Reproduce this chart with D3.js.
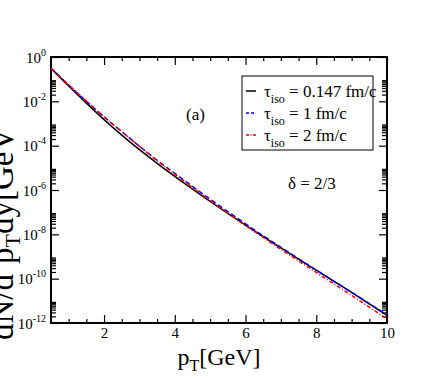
<!DOCTYPE html>
<html>
<head>
<meta charset="utf-8">
<script src="https://cdn.jsdelivr.net/npm/d3@7"></script>
<style>
  body { margin: 0; background: #fff; }
  svg { display: block; }
</style>
</head>
<body>
<svg></svg>
<script>
const width = 436
const height = 382
const serif = "'Liberation Serif', 'Times New Roman', serif"

// data
const pT = [0.5, 1, 1.5, 2, 2.5, 3, 3.5, 4, 4.5, 5, 5.5, 6, 6.5, 7, 7.5, 8, 8.5, 9, 9.5, 10]
const tau0147 = [3.1e-1, 4.9e-2, 8.3e-3, 1.5e-3, 3.0e-4, 6.6e-5, 1.6e-5, 4.1e-6, 1.1e-6, 3.05e-7,
    8.8e-8, 2.6e-8, 7.85e-9, 2.45e-9, 7.6e-10, 2.4e-10, 7.6e-11, 2.4e-11, 7.3e-12, 2.2e-12]
const tau1 = [3.1e-1, 5.4e-2, 1.0e-2, 2.0e-3, 4.3e-4, 9.5e-5, 2.2e-5, 5.6e-6, 1.45e-6, 3.85e-7,
    1.06e-7, 3.0e-8, 8.6e-9, 2.6e-9, 7.9e-10, 2.45e-10, 7.6e-11, 2.4e-11, 7.5e-12, 2.3e-12]
const tau2 = [3.1e-1, 5.5e-2, 1.02e-2, 2.0e-3, 4.3e-4, 9.3e-5, 2.1e-5, 5.1e-6, 1.3e-6, 3.35e-7,
    9.0e-8, 2.5e-8, 7.2e-9, 2.1e-9, 6.3e-10, 1.9e-10, 5.75e-11, 1.75e-11, 5.2e-12, 1.5e-12]

const seriesNames = ["0.147 fm/c", "1 fm/c", "2 fm/c"]
const xTicks = [2, 4, 6, 8, 10]
const yExponents = [0, -2, -4, -6, -8, -10, -12]

const series = [
    { name: seriesNames[0], values: tau0147, color: "#000", dash: null, legendDash: null },
    { name: seriesNames[1], values: tau1, color: "#0000ff", dash: "5,3", legendDash: "3,2" },
    { name: seriesNames[2], values: tau2, color: "#ff0000", dash: "4,2,1,2", legendDash: "3,1.5,1,1.5" }
]

const svg = d3.select("svg")
    .attr("width", width)
    .attr("height", height)

const margin = { top: 57, right: 49, bottom: 59, left: 51 }
const innerWidth = width - margin.left - margin.right
const innerHeight = height - margin.top - margin.bottom

const xScale = d3.scaleLinear().domain([0.5, 10]).range([0, innerWidth])
const yScale = d3.scaleLog().domain([1e-12, 1]).range([innerHeight, 0])

const g = svg.append("g")
    .attr("transform", `translate(${margin.left}, ${margin.top})`)

// minor tick positions
const xMinor = d3.range(1, 10.01, 0.5).filter(v => !xTicks.includes(v))
const yMajor = yExponents.map(e => Math.pow(10, e))
const yMinor = []
yExponents.filter(e => e < 0).forEach(e => {
    for (let k = 2; k <= 9; k++) yMinor.push(k * Math.pow(10, e))
})

// axes (ticks inward on all four sides)
const addAxis = (axis, transform) => {
    const a = g.append("g").attr("transform", transform).call(axis)
    a.selectAll(".domain").remove()
    a.selectAll(".tick line").attr("stroke", "#000").attr("stroke-width", 1.2)
    a.selectAll(".tick text").filter(function () { return this.textContent === "" }).remove()
    return a
}

const xAxisG = addAxis(d3.axisBottom(xScale).tickValues(xTicks).tickSize(-8).tickPadding(4)
    .tickFormat(d3.format("d")), `translate(0, ${innerHeight})`)
xAxisG.selectAll(".tick text")
    .style("font-size", "15px")
    .style("font-family", serif)
    .attr("fill", "#000")
addAxis(d3.axisBottom(xScale).tickValues(xMinor).tickSize(-4).tickFormat(""), `translate(0, ${innerHeight})`)
addAxis(d3.axisTop(xScale).tickValues(xTicks).tickSize(-8).tickFormat(""), "translate(0, 0)")
addAxis(d3.axisTop(xScale).tickValues(xMinor).tickSize(-4).tickFormat(""), "translate(0, 0)")

const yAxisG = addAxis(d3.axisLeft(yScale).tickValues(yMajor).tickSize(-8).tickFormat(""), "translate(0, 0)")
addAxis(d3.axisLeft(yScale).tickValues(yMinor).tickSize(-5).tickFormat(""), "translate(0, 0)")
addAxis(d3.axisRight(yScale).tickValues(yMajor).tickSize(-8).tickFormat(""), `translate(${innerWidth}, 0)`)
addAxis(d3.axisRight(yScale).tickValues(yMinor).tickSize(-5).tickFormat(""), `translate(${innerWidth}, 0)`)

// y tick labels 10^n
yAxisG.selectAll(".tick").each(function (d) {
    const t = d3.select(this).append("text")
        .attr("x", -5)
        .attr("y", 5)
        .attr("text-anchor", "end")
        .attr("fill", "#000")
        .style("font-size", "15px")
        .style("font-family", serif)
    t.append("tspan").text("10")
    t.append("tspan")
        .attr("dy", -7)
        .style("font-size", "10px")
        .text(Math.round(Math.log10(d)))
})

// frame
g.append("rect")
    .attr("width", innerWidth)
    .attr("height", innerHeight)
    .attr("fill", "none")
    .attr("stroke", "#000")
    .attr("stroke-width", 2)

// curves
const line = d3.line()
    .x((d, i) => xScale(pT[i]))
    .y(d => yScale(d))
    .curve(d3.curveMonotoneX)

g.selectAll(".curve").data(series)
    .enter()
    .append("path")
    .attr("class", "curve")
    .attr("d", d => line(d.values))
    .attr("fill", "none")
    .attr("stroke", d => d.color)
    .attr("stroke-width", 1.5)
    .attr("stroke-dasharray", d => d.dash)

// legend
const legend = svg.append("g").attr("transform", "translate(242, 76)")
legend.append("rect")
    .attr("width", 131)
    .attr("height", 74)
    .attr("fill", "#fff")
    .attr("stroke", "#000")
    .attr("stroke-width", 1)

series.forEach((s, i) => {
    const y = 15 + i * 22
    legend.append("line")
        .attr("x1", 4).attr("x2", 14)
        .attr("y1", y).attr("y2", y)
        .attr("stroke", s.color)
        .attr("stroke-width", 1.5)
        .attr("stroke-dasharray", s.legendDash)
    const t = legend.append("text")
        .attr("x", 22)
        .attr("y", y + 6)
        .attr("fill", "#000")
        .style("font-size", "17px")
        .style("font-family", serif)
    t.append("tspan").text("τ")
    t.append("tspan").attr("dy", 6).style("font-size", "12px").text("iso")
    t.append("tspan").attr("dy", -6).text(" = " + s.name)
})

// annotations
svg.append("text")
    .attr("x", 186)
    .attr("y", 120)
    .style("font-size", "17px")
    .style("font-family", serif)
    .text("(a)")

svg.append("text")
    .attr("x", 288)
    .attr("y", 189)
    .style("font-size", "17px")
    .style("font-family", serif)
    .text("δ = 2/3")

// axis titles
const xTitle = svg.append("text")
    .attr("x", margin.left + innerWidth / 2)
    .attr("y", 365)
    .attr("text-anchor", "middle")
    .style("font-size", "24px")
    .style("font-family", serif)
xTitle.append("tspan").text("p")
xTitle.append("tspan").attr("dy", 6).style("font-size", "16px").text("T")
xTitle.append("tspan").attr("dy", -6).text("[GeV]")

// y title runs past the left edge, as in the reference
const yTitle = svg.append("text")
    .attr("transform", "translate(13, 340) rotate(-90)")
    .style("font-size", "33px")
    .style("font-family", serif)
yTitle.append("tspan").text("dN/d")
yTitle.append("tspan").attr("dy", -14).style("font-size", "20px").text("2")
yTitle.append("tspan").attr("dy", 14).text("p")
yTitle.append("tspan").attr("dy", 7).style("font-size", "22px").text("T")
yTitle.append("tspan").attr("dy", -7).text("dy[GeV")
</script>
</body>
</html>
